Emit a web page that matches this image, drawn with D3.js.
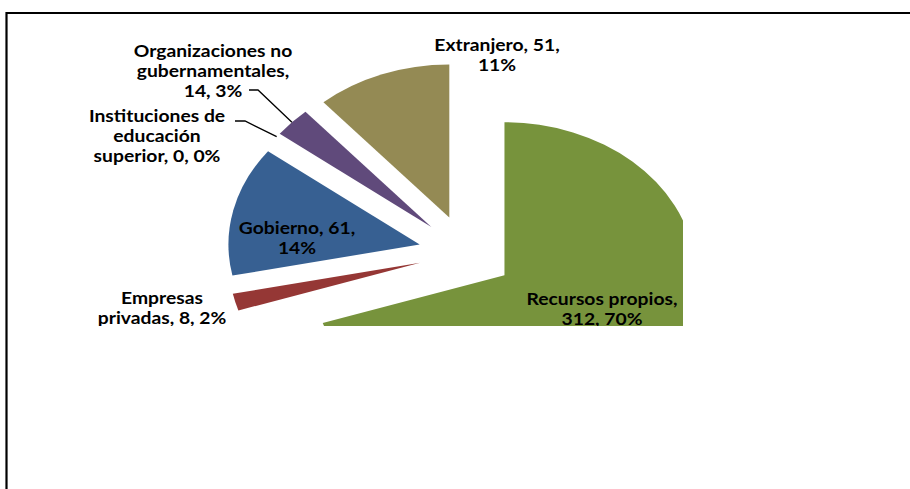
<!DOCTYPE html>
<html><head><meta charset="utf-8">
<script src="https://cdn.jsdelivr.net/npm/d3@7"></script>
<style>
html,body{margin:0;padding:0;background:#fff;}
text{font-family:Lato,"Open Sans",sans-serif;font-weight:bold;fill:#000;}
</style></head>
<body><svg id="chart" width="910" height="489"></svg>
<script>
// ---- data ----
const categories = ["Recursos propios","Empresas privadas","Gobierno","Instituciones de educación superior","Organizaciones no gubernamentales","Extranjero"];
const values = [312, 8, 61, 0, 14, 51];
const colors = ["#77933C","#953735","#376092","#4F81BD","#604A7B","#948A54"];
// label text, wrapped into lines as in the original
const labelLines = [
  ["Recursos propios,","312, 70%"],
  ["Empresas","privadas, 8, 2%"],
  ["Gobierno, 61,","14%"],
  ["Instituciones de","educación","superior, 0, 0%"],
  ["Organizaciones no","gubernamentales,","14, 3%"],
  ["Extranjero, 51,","11%"]
];

// ---- layout ----
const W = 910, H = 489;
const cx = 466, cy = 253, R = 153, sx = 1.25, explode = 38;
const textSx = 1.17, fontSize = 16.5;
const labelPos = [[602,305],[162,304],[297,234],[157,122],[213,57],[497,51]];
const leaderStart = {3:[[235,121],[245,121]], 4:[[249,90],[258,90]]};
const lineGap = 20;

const svg = d3.select("#chart");
svg.append("rect").attr("width",W).attr("height",H).attr("fill","#fff");

svg.append("defs").append("clipPath").attr("id","plotclip")
  .append("rect").attr("x",0).attr("y",0).attr("width",683).attr("height",326);

const plot = svg.append("g").attr("clip-path","url(#plotclip)");

const pie = d3.pie().sort(null).value(d => d);
const arcs = pie(values);
const arc = d3.arc().innerRadius(0).outerRadius(R);

const offset = a => {
  const m = (a.startAngle + a.endAngle)/2;
  return [explode*Math.sin(m)*sx, -explode*Math.cos(m)];
};

plot.selectAll("path.slice").data(arcs).enter().append("path")
  .attr("class","slice")
  .attr("d", arc)
  .attr("fill", (d,i) => colors[i])
  .attr("transform", d => {
    const [ox,oy] = offset(d);
    return `translate(${cx+ox},${cy+oy}) scale(${sx},1)`;
  });

// leader lines
Object.keys(leaderStart).forEach(k => {
  const a = arcs[+k];
  const m = (a.startAngle + a.endAngle)/2;
  const [ox,oy] = offset(a);
  const end = [cx+ox+R*Math.sin(m)*sx, cy+oy-R*Math.cos(m)];
  const pts = leaderStart[k].concat([end]);
  plot.append("path").attr("d", d3.line()(pts))
    .attr("fill","none").attr("stroke","#000").attr("stroke-width",1.3);
});

// labels
const lab = plot.selectAll("g.lab").data(labelLines).enter().append("g")
  .attr("class","lab")
  .attr("transform",(d,i)=>`translate(${labelPos[i][0]},${labelPos[i][1]}) scale(${textSx},1)`);
lab.each(function(lines){
  const g = d3.select(this);
  lines.forEach((t,j)=>{
    g.append("text").attr("x",0).attr("y",j*lineGap)
      .attr("text-anchor","middle").attr("font-size",fontSize).text(t);
  });
});

// outer frame (left and top edges visible)
svg.append("path").attr("d",`M6.5,${H} V13 H${W}`)
  .attr("fill","none").attr("stroke","#000").attr("stroke-width",2.2);
</script></body></html>
